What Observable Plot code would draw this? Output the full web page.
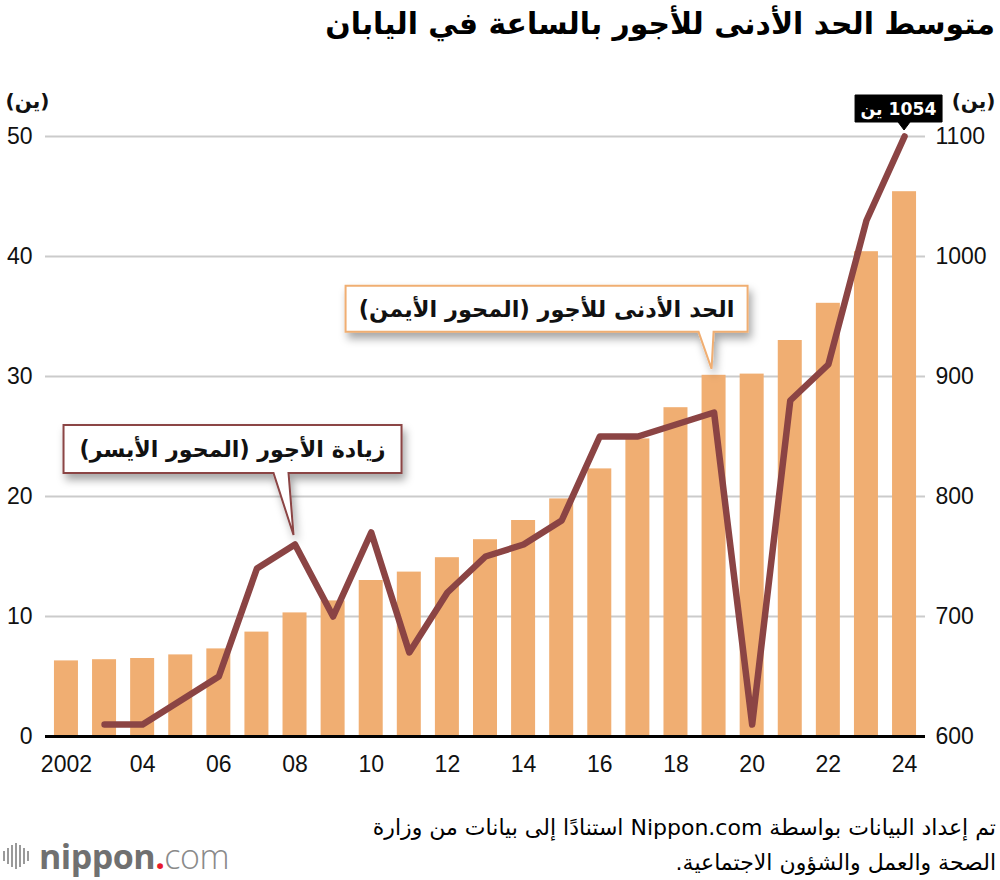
<!DOCTYPE html>
<html lang="ar">
<head>
<meta charset="utf-8">
<script src="https://cdn.jsdelivr.net/npm/d3@7"></script>
<script src="https://cdn.jsdelivr.net/npm/@observablehq/plot@0.6"></script>
<style>
  html, body { margin: 0; padding: 0; background: #fff; }
  body { width: 1000px; height: 880px; position: relative; overflow: hidden; font-family: "DejaVu Sans", sans-serif; color: #000; }
  #title { position: absolute; right: 5px; top: 4px; direction: rtl; font-weight: bold; font-size: 30px; line-height: 40px; white-space: nowrap; }
  #chart { position: absolute; left: 0; top: 60px; }
  #footer { position: absolute; right: 4px; top: 810px; direction: rtl; font-size: 20px; line-height: 35px; text-align: right; white-space: nowrap; }
  #logo { position: absolute; left: 3px; top: 836px; display: flex; align-items: center; height: 40px; }
  #logo .bars { display: flex; align-items: center; gap: 2px; margin-right: 10px; }
  #logo .bars span { display: block; width: 2px; background: #9a9a9a; }
  #logo .word { font-family: "Open Sans", sans-serif; font-size: 34px; letter-spacing: -0.5px; line-height: 40px; }
  #logo .n { color: #707070; font-weight: bold; }
  #logo .dot { color: #e8192c; font-weight: bold; }
  #logo .com { color: #8a8a8a; font-weight: 300; }
</style>
</head>
<body>
<div id="title"></div>
<div id="chart"></div>
<div id="footer"></div>
<div id="logo"></div>
<script>
// ---------------- data ----------------
const years = [2002, 2003, 2004, 2005, 2006, 2007, 2008, 2009, 2010, 2011, 2012, 2013, 2014, 2015, 2016, 2017, 2018, 2019, 2020, 2021, 2022, 2023, 2024];
const minWage = [663, 664, 665, 668, 673, 687, 703, 713, 730, 737, 749, 764, 780, 798, 823, 848, 874, 901, 902, 930, 961, 1004, 1054];
const incYears = [2003, 2004, 2005, 2006, 2007, 2008, 2009, 2010, 2011, 2012, 2013, 2014, 2015, 2016, 2017, 2018, 2019, 2020, 2021, 2022, 2023, 2024];
const wageIncrease = [1, 1, 3, 5, 14, 16, 10, 17, 7, 12, 15, 16, 18, 25, 25, 26, 27, 1, 28, 31, 43, 50];
const leftTicks = [0, 10, 20, 30, 40, 50];
const rightTickLabels = ["600", "700", "800", "900", "1000", "1100"];
const xTickYears = [2002, 2004, 2006, 2008, 2010, 2012, 2014, 2016, 2018, 2020, 2022, 2024];
const xTickLabels = ["2002", "04", "06", "08", "10", "12", "14", "16", "18", "20", "22", "24"];
const yenUnit = "(ين)";
const yenWord = "ين";
const titleText = "متوسط الحد الأدنى للأجور بالساعة في اليابان";
const labelIncrease = "زيادة الأجور (المحور الأيسر)";
const labelMinWage = "الحد الأدنى للأجور (المحور الأيمن)";
const sourceLines = [
  "تم إعداد البيانات بواسطة Nippon.com استنادًا إلى بيانات من وزارة",
  "الصحة والعمل والشؤون الاجتماعية."
];
const callIncreaseYear = 2008;
const callWageYear = 2019;

// right axis = 600 + 10 × left axis
const toLeft = w => (w - 600) / 10;
const wageRows = years.map((year, i) => ({year, wage: minWage[i], left: toLeft(minWage[i])}));
const incRows = incYears.map((year, i) => ({year, inc: wageIncrease[i]}));

const lineColor = "#8b4444";
const barColor = "#f0ae72";
const numFont = "'Liberation Sans', Arial, sans-serif";

document.getElementById("title").textContent = titleText;
document.getElementById("footer").innerHTML = sourceLines.map(s => `<div>${s}</div>`).join("");

// logo
const logo = document.getElementById("logo");
const barHeights = [10, 16, 22, 26, 22, 16, 10];
logo.innerHTML = `<div class="bars">${barHeights.map(h => `<span style="height:${h}px"></span>`).join("")}</div>` +
  `<div class="word"><span class="n">nippon</span><span class="dot">.</span><span class="com">com</span></div>`;

const chart = Plot.plot({
  width: 1000,
  height: 740,
  marginTop: 76,
  marginBottom: 64,
  marginLeft: 45,
  marginRight: 75,
  style: {fontFamily: numFont, background: "transparent", overflow: "visible", color: "#111"},
  x: {domain: [2001.45, 2024.55], axis: null},
  y: {domain: [0, 50], axis: null},
  marks: [
    Plot.ruleY(leftTicks.filter(d => d > 0), {stroke: "#cbcbcb", strokeWidth: 2}),
    Plot.rectY(wageRows, {x1: d => d.year - 0.315, x2: d => d.year + 0.315, y1: 0, y2: "left", fill: barColor}),
    Plot.ruleY([0], {stroke: "#000", strokeWidth: 3}),
    Plot.line(incRows, {x: "year", y: "inc", stroke: lineColor, strokeWidth: 6.5, strokeLinecap: "round", strokeLinejoin: "round"}),
    Plot.axisY({anchor: "left", ticks: leftTicks, tickSize: 0, tickPadding: 13, fontSize: 23, label: null}),
    Plot.axisY({anchor: "right", ticks: leftTicks, tickFormat: d => rightTickLabels[leftTicks.indexOf(d)], tickSize: 0, tickPadding: 10, fontSize: 23, label: null}),
    Plot.axisX({ticks: xTickYears, tickFormat: d => xTickLabels[xTickYears.indexOf(d)], tickSize: 0, tickPadding: 19, fontSize: 23, label: null}),
    Plot.text([yenUnit], {frameAnchor: "top-left", dx: -40, dy: -35, textAnchor: "start", lineAnchor: "middle", fontSize: 20, fontWeight: "bold", fontFamily: "DejaVu Sans"}),
    Plot.text([yenUnit], {frameAnchor: "top-right", dx: 70, dy: -35, textAnchor: "end", lineAnchor: "middle", fontSize: 20, fontWeight: "bold", fontFamily: "DejaVu Sans"})
  ]
});
document.getElementById("chart").appendChild(chart);

// --------- annotations placed with the plot's own scales ---------
const xs = chart.scale("x"), ys = chart.scale("y");
const svg = d3.select(chart);
const defs = svg.append("defs");
const f = defs.append("filter").attr("id", "shadow").attr("x", "-20%").attr("y", "-30%").attr("width", "140%").attr("height", "170%");
f.append("feDropShadow").attr("dx", 3).attr("dy", 6).attr("stdDeviation", 4).attr("flood-color", "#000").attr("flood-opacity", 0.35);

function callout(px, py, o) {
  const d = `M${px + o.left},${py + o.top} H${px + o.right} V${py + o.bottom} H${px + o.baseR} L${px + o.tipX},${py + o.tipY} L${px + o.baseL},${py + o.bottom} H${px + o.left} Z`;
  svg.append("path").attr("d", d).attr("fill", o.fill || "#fff").attr("stroke", o.stroke).attr("stroke-width", o.strokeWidth || 2)
    .attr("stroke-linejoin", "miter").attr("filter", o.shadow ? "url(#shadow)" : null);
  const t = svg.append("text")
    .attr("x", px + (o.left + o.right) / 2)
    .attr("y", py + (o.top + o.bottom) / 2)
    .attr("text-anchor", "middle")
    .attr("dominant-baseline", "central")
    .attr("direction", o.dir || "ltr")
    .attr("font-family", "DejaVu Sans")
    .attr("font-weight", "bold")
    .attr("font-size", o.fontSize)
    .attr("fill", o.color || "#111")
    .text(o.text);
  if (o.fitWidth) {
    const w = t.node().getComputedTextLength();
    if (w > 0) t.attr("font-size", o.fontSize * o.fitWidth / w);
  }
}

const i1 = incYears.indexOf(callIncreaseYear);
callout(xs.apply(callIncreaseYear), ys.apply(wageIncrease[i1]), {
  left: -231, right: 107, top: -119, bottom: -71, baseL: -21, baseR: -6, tipX: -1, tipY: -9,
  stroke: lineColor, text: labelIncrease, dir: "rtl", fontSize: 24, fitWidth: 306, shadow: true
});
const i2 = years.indexOf(callWageYear);
callout(xs.apply(callWageYear), ys.apply(toLeft(minWage[i2])), {
  left: -368, right: 34, top: -89, bottom: -43, baseL: -15, baseR: 0, tipX: -2, tipY: -6,
  stroke: barColor, text: labelMinWage, dir: "rtl", fontSize: 24, fitWidth: 376, shadow: true
});
const lastYear = incYears[incYears.length - 1];
callout(xs.apply(lastYear), ys.apply(wageIncrease[wageIncrease.length - 1]), {
  left: -49, right: 38, top: -41, bottom: -14, baseL: -6, baseR: 6, tipX: 0, tipY: -6,
  stroke: "#000", fill: "#000", color: "#fff", strokeWidth: 1, dir: "rtl",
  text: `${minWage[minWage.length - 1]} ${yenWord}`, fontSize: 20, fitWidth: 76, shadow: false
});

// fit title and footer widths to the reference
function fitWidth(el, target) {
  const w = el.getBoundingClientRect().width;
  const fs = parseFloat(getComputedStyle(el).fontSize);
  if (w > 0) el.style.fontSize = (fs * target / w) + "px";
}
fitWidth(document.getElementById("title"), 670);
const fl = document.querySelector("#footer div");
const fw = fl.getBoundingClientRect().width;
const ffs = parseFloat(getComputedStyle(document.getElementById("footer")).fontSize);
if (fw > 0) document.getElementById("footer").style.fontSize = Math.min(22, ffs * 667 / fw) + "px";
</script>
</body>
</html>
